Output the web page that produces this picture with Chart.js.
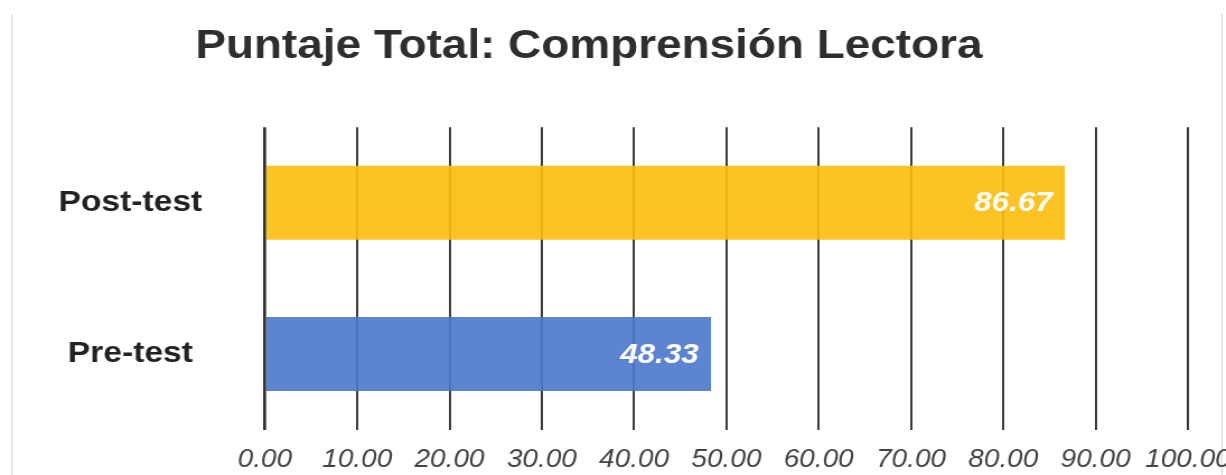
<!DOCTYPE html>
<html lang="es">
<head>
    <meta charset="UTF-8">
    <title>Puntaje Total: Comprensión Lectora</title>
    <style>
        html, body {
            margin: 0;
            padding: 0;
            width: 1226px;
            height: 475px;
            overflow: hidden;
            background: #fff;
            font-family: "Liberation Sans", Arial, sans-serif;
        }
        /* faint card edges seen on the left and right of the reference */
        .edge {
            position: absolute;
            top: 14px;
            bottom: 0;
            width: 2px;
            background: #e6e6ea;
        }
        /* the original picture is stretched sideways, so the chart is drawn narrower and scaled */
        .stretch {
            position: absolute;
            left: 0;
            top: 0;
            width: 1095px;
            height: 475px;
            transform: scaleX(1.1196);
            transform-origin: 0 0;
        }
    </style>
    <script src="https://cdn.jsdelivr.net/npm/chart.js"></script>
</head>
<body>
<div class="edge" style="left:11px"></div>
<div class="edge" style="left:1221px"></div>
<div class="stretch">
    <canvas id="scoreChart" width="1095" height="475"></canvas>
</div>

<script>
    // Chart data
    const categories = ['Post-test', 'Pre-test'];
    const scores = [86.67, 48.33];
    const barColors = ['rgba(252, 189, 12, 0.9)', 'rgba(74, 119, 202, 0.9)'];
    const xMin = 0;
    const xMax = 100;
    const xStep = 10;

    const fontFamily = '"Liberation Sans", Arial, sans-serif';

    // Writes the value inside the end of each bar
    const valueLabels = {
        id: 'valueLabels',
        afterDatasetsDraw(chart) {
            const ctx = chart.ctx;
            const meta = chart.getDatasetMeta(0);
            ctx.save();
            ctx.font = 'italic bold 28px ' + fontFamily;
            ctx.fillStyle = '#ffffff';
            ctx.textAlign = 'right';
            ctx.textBaseline = 'middle';
            meta.data.forEach((bar, i) => {
                ctx.fillText(scores[i].toFixed(2), bar.x - 11, bar.y + 1);
            });
            ctx.restore();
        }
    };

    const ctx = document.getElementById('scoreChart').getContext('2d');
    new Chart(ctx, {
        type: 'bar',
        data: {
            labels: categories,
            datasets: [{
                data: scores,
                backgroundColor: barColors,
                borderWidth: 0,
                barPercentage: 0.49,
                categoryPercentage: 1
            }]
        },
        options: {
            indexAxis: 'y',
            responsive: false,
            animation: false,
            layout: {
                padding: { left: -9, right: 34, top: 0, bottom: 0 }
            },
            plugins: {
                legend: { display: false },
                tooltip: { enabled: false },
                title: {
                    display: true,
                    text: 'Puntaje Total: Comprensión Lectora',
                    color: '#2e2e2e',
                    font: { family: fontFamily, size: 41, weight: 'bold' },
                    padding: { top: 22, bottom: 56 }
                }
            },
            scales: {
                x: {
                    min: xMin,
                    max: xMax,
                    border: { display: false },
                    grid: {
                        color: '#303030',
                        lineWidth: c => (c.index === 0 ? 2.7 : 1.9),
                        drawTicks: false
                    },
                    ticks: {
                        stepSize: xStep,
                        padding: 16,
                        minRotation: 0,
                        maxRotation: 0,
                        autoSkip: false,
                        color: '#444444',
                        font: { family: fontFamily, size: 25, style: 'italic' },
                        callback: value => Number(value).toFixed(2)
                    },
                    afterFit(scale) {
                        scale.height = 45.5;
                        scale.paddingLeft = 0;
                        scale.paddingRight = 0;
                    }
                },
                y: {
                    border: { display: false },
                    grid: { display: false, drawTicks: false },
                    ticks: {
                        crossAlign: 'center',
                        padding: 56,
                        color: '#222222',
                        font: { family: fontFamily, size: 30, weight: 'bold' }
                    },
                    afterFit(scale) {
                        scale.width = 245.6;
                        scale.paddingTop = 0;
                        scale.paddingBottom = 0;
                    }
                }
            }
        },
        plugins: [valueLabels]
    });
</script>
</body>
</html>
